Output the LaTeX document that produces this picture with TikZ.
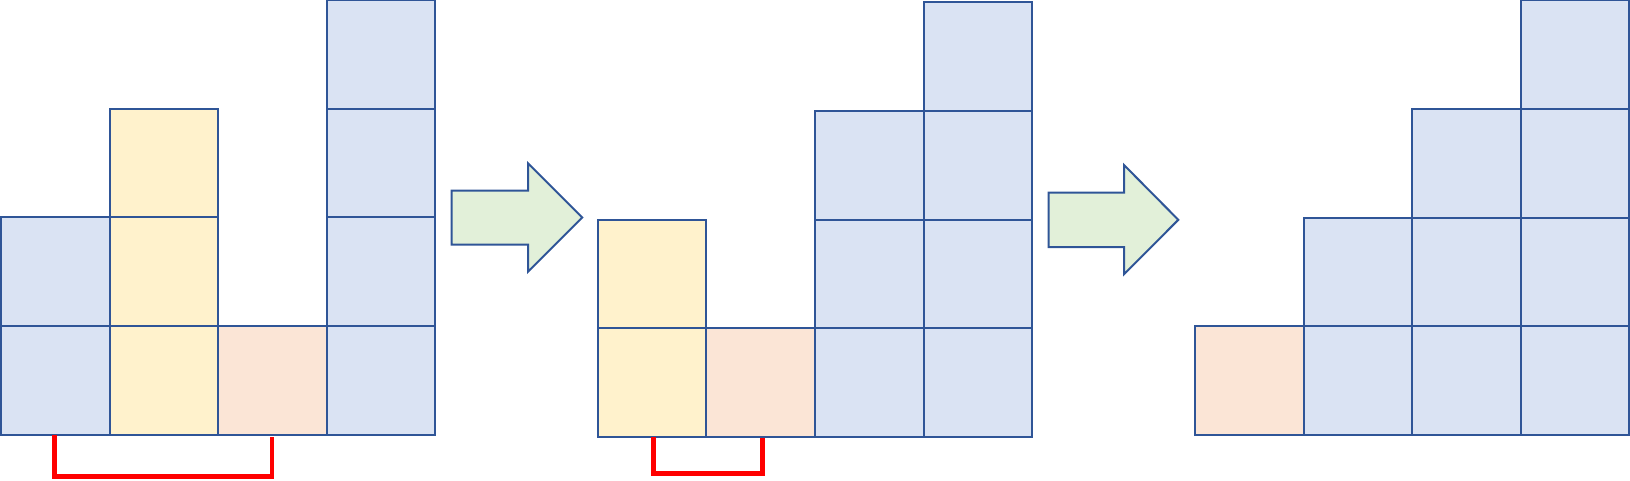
\documentclass[tikz,border=0pt]{standalone}
\definecolor{bordc}{HTML}{2F5597}
\definecolor{bluef}{HTML}{DAE3F3}
\definecolor{yellf}{HTML}{FFF2CC}
\definecolor{peachf}{HTML}{FBE5D6}
\definecolor{greenf}{HTML}{E2F0D9}
\newcommand\mycell[6]{\node[#2] (#1) at ({#3+108.6*(#5+0.5)},{#4-108.6*(#6+0.5)}) {};}
\begin{document}
\begin{tikzpicture}[x=1pt,y=-1pt,
  cellbox/.style={draw=bordc, line width=2pt, minimum size=108.6pt, inner sep=0pt, outer sep=0pt},
  bluecell/.style={cellbox, fill=bluef},
  yellcell/.style={cellbox, fill=yellf},
  peachcell/.style={cellbox, fill=peachf},
  bigarrow/.style={draw=bordc, fill=greenf, line width=2pt, line join=miter},
  bracketline/.style={draw=red, line width=4.7pt, line cap=butt, line join=miter}]
\useasboundingbox (0,0) rectangle (1630,480);
% left group
\mycell{L00}{bluecell}{1}{434.5}{0}{0}
\mycell{L01}{bluecell}{1}{434.5}{0}{1}
\mycell{L10}{yellcell}{1}{434.5}{1}{0}
\mycell{L11}{yellcell}{1}{434.5}{1}{1}
\mycell{L12}{yellcell}{1}{434.5}{1}{2}
\mycell{L20}{peachcell}{1}{434.5}{2}{0}
\mycell{L30}{bluecell}{1}{434.5}{3}{0}
\mycell{L31}{bluecell}{1}{434.5}{3}{1}
\mycell{L32}{bluecell}{1}{434.5}{3}{2}
\mycell{L33}{bluecell}{1}{434.5}{3}{3}
% middle group
\mycell{M00}{yellcell}{597.7}{436.8}{0}{0}
\mycell{M01}{yellcell}{597.7}{436.8}{0}{1}
\mycell{M10}{peachcell}{597.7}{436.8}{1}{0}
\mycell{M20}{bluecell}{597.7}{436.8}{2}{0}
\mycell{M21}{bluecell}{597.7}{436.8}{2}{1}
\mycell{M22}{bluecell}{597.7}{436.8}{2}{2}
\mycell{M30}{bluecell}{597.7}{436.8}{3}{0}
\mycell{M31}{bluecell}{597.7}{436.8}{3}{1}
\mycell{M32}{bluecell}{597.7}{436.8}{3}{2}
\mycell{M33}{bluecell}{597.7}{436.8}{3}{3}
% right group
\mycell{R00}{peachcell}{1195}{434.7}{0}{0}
\mycell{R10}{bluecell}{1195}{434.7}{1}{0}
\mycell{R11}{bluecell}{1195}{434.7}{1}{1}
\mycell{R20}{bluecell}{1195}{434.7}{2}{0}
\mycell{R21}{bluecell}{1195}{434.7}{2}{1}
\mycell{R22}{bluecell}{1195}{434.7}{2}{2}
\mycell{R30}{bluecell}{1195}{434.7}{3}{0}
\mycell{R31}{bluecell}{1195}{434.7}{3}{1}
\mycell{R32}{bluecell}{1195}{434.7}{3}{2}
\mycell{R33}{bluecell}{1195}{434.7}{3}{3}
% arrows
\draw[bigarrow] (451.7,190.5) -- (528,190.5) -- (528,163.3) -- (582.3,217.5)
  -- (528,271.7) -- (528,244.5) -- (451.7,244.5) -- cycle;
\draw[bigarrow] (1048.7,192.7) -- (1124,192.7) -- (1124,165) -- (1178.3,219.8)
  -- (1124,274.3) -- (1124,247) -- (1048.7,247) -- cycle;
% brackets
\coordinate (b1a) at ([shift={(-0.6,0)}]L00.south);
\coordinate (b1b) at ([shift={(-0.5,2.8)}]L20.south);
\draw[bracketline] (b1a) -- ++(0,42.3) -| (b1b);
\coordinate (b2a) at ([shift={(1.7,0)}]M00.south);
\coordinate (b2b) at ([shift={(1.6,1.5)}]M10.south);
\draw[bracketline] (b2a) -- ++(0,36.5) -| (b2b);
\end{tikzpicture}
\end{document}
